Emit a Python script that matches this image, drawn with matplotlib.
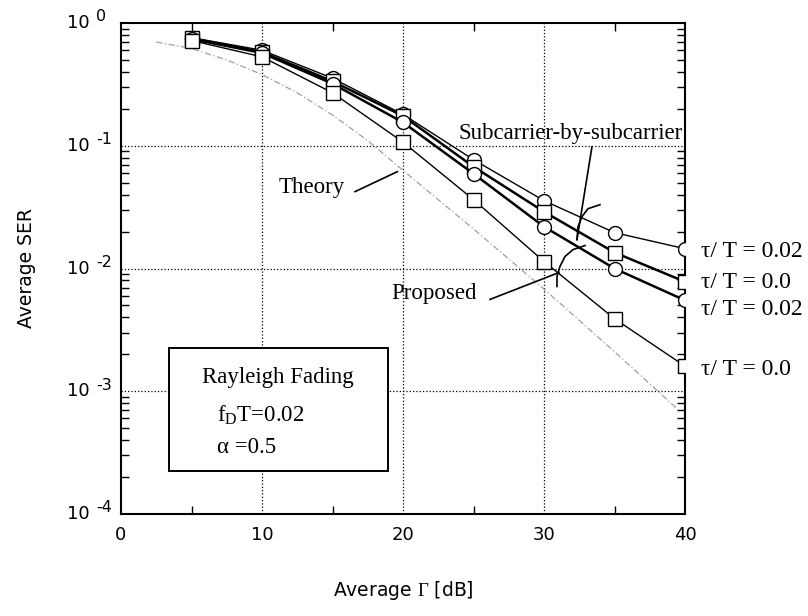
import numpy as np
import matplotlib.pyplot as plt
from matplotlib.patches import Rectangle
from matplotlib.ticker import FixedLocator, NullFormatter
import matplotlib.transforms as mtransforms

plt.rcParams['font.family'] = ['DejaVu Sans']
plt.rcParams['mathtext.fontset'] = 'custom'
plt.rcParams['mathtext.rm'] = 'Liberation Serif'
plt.rcParams['mathtext.it'] = 'Liberation Serif:italic'

# data
snr = [5, 10, 15, 20, 25, 30, 35, 40]
sub_002 = [0.76, 0.60, 0.355, 0.18, 0.077, 0.0357, 0.0196, 0.0145]
sub_000 = [0.75, 0.58, 0.335, 0.175, 0.0675, 0.029, 0.0135, 0.0078]
prop_002 = [0.74, 0.57, 0.32, 0.155, 0.0592, 0.0219, 0.0100, 0.0055]
prop_000 = [0.72, 0.53, 0.27, 0.107, 0.0364, 0.0114, 0.0039, 0.0016]

theory_snr = [2.5, 5, 7.5, 10, 12.5, 15, 17.5, 20, 25, 30, 35, 39.5]
theory_ser = [0.70, 0.62, 0.50, 0.38, 0.27, 0.178, 0.11, 0.063, 0.021, 0.0068, 0.0021, 0.00071]

xticks = [0, 10, 20, 30, 40]
yticks = [1, 1e-1, 1e-2, 1e-3, 1e-4]
ytick_exps = ['0', '-1', '-2', '-3', '-4']
right_labels = ['τ/ T = 0.02', 'τ/ T = 0.0', 'τ/ T = 0.02', 'τ/ T = 0.0']
right_label_y = [0.0137, 0.0077, 0.00464, 0.00151]

fig = plt.figure(figsize=(8.08, 6.16), dpi=100)
ax = fig.add_axes([121 / 808, 1 - 514 / 616, 564 / 808, 491 / 616])
ax.set_yscale('log')
ax.set_xlim(0, 40)
ax.set_ylim(1e-4, 1)

# grid
for gx in [10, 20, 30]:
    ax.axvline(gx, color='black', ls=':', lw=0.9, zorder=1)
for gy in [1e-1, 1e-2, 1e-3]:
    ax.axhline(gy, color='black', ls=':', lw=0.9, zorder=1)

ax.plot(theory_snr, theory_ser, color='#a0a0a0', lw=0.9,
        ls=(0, (5, 2, 1, 2)), zorder=2)

mk = dict(mfc='white', mec='black', mew=1.0, ms=10, color='black', zorder=4)
ax.plot(snr, sub_002, marker='o', lw=1.0, **mk)
ax.plot(snr, sub_000, marker='s', lw=1.8, **mk)
ax.plot(snr, prop_002, marker='o', lw=1.8, **mk)
ax.plot(snr, prop_000, marker='s', lw=1.0, **mk)

# ticks
ax.xaxis.set_major_locator(FixedLocator(xticks))
ax.xaxis.set_minor_locator(FixedLocator([5, 15, 25, 35]))
ax.yaxis.set_major_locator(FixedLocator(yticks))
ax.yaxis.set_major_formatter(NullFormatter())
ax.yaxis.set_minor_formatter(NullFormatter())
ax.tick_params(which='both', direction='in', top=True, right=True, width=1.0)
ax.tick_params(which='major', length=0, pad=9, labelsize=13)
ax.tick_params(which='minor', length=6)
for s in ax.spines.values():
    s.set_linewidth(1.5)

# y tick labels: "10" with a raised exponent of nearly the same size
ytr = mtransforms.blended_transform_factory(ax.transAxes, ax.transData)
for yv, ex in zip(yticks, ytick_exps):
    ax.text(-0.055, yv, '10', transform=ytr, ha='right', va='center',
            fontsize=13, clip_on=False)
    ax.text(-0.044, yv * 1.12, ex, transform=ytr, ha='left', va='center',
            fontsize=11.5, clip_on=False)

fig.text(27 / 808, 1 - 268 / 616, 'Average SER', rotation=90,
         ha='center', va='center', fontsize=13.5)
fig.text(403 / 808, 1 - 590 / 616, r'Average $\mathrm{\Gamma}$ [dB]',
         ha='center', va='center', fontsize=13.5)

serif = dict(family='Liberation Serif', fontsize=16.5, color='black')

# annotations
ax.text(15.9, 0.0456, 'Theory', ha='right', va='center', **serif)
ax.plot([16.6, 19.6], [0.0423, 0.0615], color='black', lw=1.2, zorder=5)

ax.text(31.9, 0.127, 'Subcarrier-by-subcarrier', ha='center', va='center', zorder=6, **serif)
ax.plot([33.4, 32.34], [0.098, 0.0172], color='black', lw=1.2, zorder=5)
ax.plot([33.97, 33.12, 32.70, 32.41, 32.34],
        [0.0331, 0.0307, 0.0265, 0.0219, 0.0172], color='black', lw=1.2, zorder=5)

ax.text(22.2, 0.00626, 'Proposed', ha='center', va='center', **serif)
ax.plot([26.17, 31.06], [0.0056, 0.00927], color='black', lw=1.2, zorder=5)
ax.plot([32.91, 32.06, 31.49, 31.13, 30.92, 30.92],
        [0.01538, 0.01426, 0.01253, 0.01038, 0.0086, 0.00714], color='black', lw=1.2, zorder=5)

for lab, yv in zip(right_labels, right_label_y):
    ax.text(41.1, yv, lab, ha='left', va='center', clip_on=False,
            family='Liberation Serif', fontsize=17)

# parameter box
ax.add_patch(Rectangle((0.085, 0.0876), 0.388, 0.250, transform=ax.transAxes,
                       facecolor='white', edgecolor='black', lw=1.4, zorder=6))
ax.text(0.278, 0.279, 'Rayleigh Fading', transform=ax.transAxes,
        ha='center', va='center', zorder=7, **serif)
ax.text(0.170, 0.2016, r'$\mathrm{f_D}$T=0.02', transform=ax.transAxes,
        ha='left', va='center', zorder=7, **serif)
ax.text(0.170, 0.136, 'α =0.5', transform=ax.transAxes,
        ha='left', va='center', zorder=7, **serif)

fig.savefig('out.png', dpi=100, facecolor='white')
